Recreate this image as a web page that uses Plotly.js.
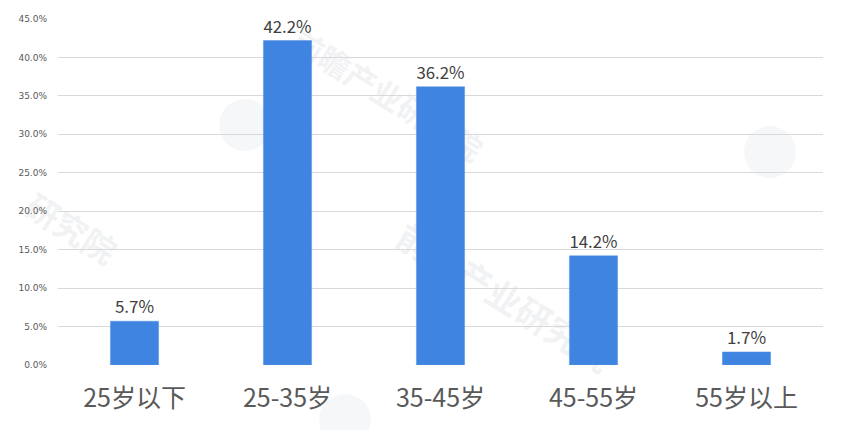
<!DOCTYPE html>
<html>
<head>
<meta charset="utf-8">
<script src="https://cdn.plot.ly/plotly-3.0.1.min.js"></script>
<style>html,body{margin:0;padding:0;background:#fff;}#chart{width:852px;height:430px;}</style>
</head>
<body>
<div id="chart"></div>
<script>
const categories = ["25岁以下", "25-35岁", "35-45岁", "45-55岁", "55岁以上"];
const shares = [5.7, 42.2, 36.2, 14.2, 1.7];
const yTicks = [0, 5, 10, 15, 20, 25, 30, 35, 40, 45];
const watermarkText = "前瞻产业研究院";
const watermarkPart = "研究院";

const CJK = '"Noto Sans CJK SC", "Microsoft YaHei", sans-serif';

function wm(text, cx, cy, len, angleDeg, size) {
  const a = angleDeg * Math.PI / 180;
  const dx = Math.cos(a) * len / 2, dy = Math.sin(a) * len / 2;
  const px = p => (p - 58) / 765, py = p => (365 - p) / 346;
  return {
    type: 'line', xref: 'paper', yref: 'paper', layer: 'below',
    x0: px(cx - dx), y0: py(cy + dy), x1: px(cx + dx), y1: py(cy - dy),
    line: {color: 'rgba(0,0,0,0)', width: 0},
    label: {text: text, textangle: 'auto', textposition: 'middle',
      font: {family: CJK, size: size, color: 'rgba(205,210,218,0.28)', weight: 'bold'}}
  };
}
function logo(cx, cy, r) {
  const px = p => (p - 58) / 765, py = p => (365 - p) / 346;
  return {type: 'circle', xref: 'paper', yref: 'paper', layer: 'below',
    x0: px(cx - r), x1: px(cx + r), y0: py(cy + r), y1: py(cy - r),
    line: {width: 0}, fillcolor: 'rgba(215,220,228,0.22)'};
}

const trace = {
  type: 'bar',
  x: categories,
  y: shares,
  marker: {color: '#3f84e0', line: {color: '#5a95e6', width: 0.5}},
  text: shares.map(v => v.toFixed(1) + '%'),
  textposition: 'outside',
  textfont: {family: CJK, size: 17, color: '#404040'},
  cliponaxis: false,
  hoverinfo: 'none'
};

const layout = {
  width: 852, height: 430,
  margin: {l: 58, r: 29, t: 19, b: 65},
  paper_bgcolor: '#ffffff', plot_bgcolor: 'rgba(0,0,0,0)',
  bargap: 0.685,
  showlegend: false,
  xaxis: {
    showgrid: false, zeroline: false, showline: false, ticks: '',
    tickfont: {family: CJK, size: 25, color: '#595959'},
    ticklabelstandoff: 16
  },
  yaxis: {
    range: [0, 45], tickvals: yTicks, ticktext: yTicks.map(v => v.toFixed(1) + '%'),
    showgrid: true, gridcolor: '#d9d9d9', gridwidth: 1,
    zeroline: false, showline: false, ticks: '',
    tickfont: {family: '"DejaVu Sans", sans-serif', size: 9, color: '#595959'},
    ticklabelstandoff: 10
  },
  shapes: [
    logo(245, 125, 26), logo(770, 152, 26), logo(345, 420, 26),
    wm(watermarkText, 372, 120, 240, -32, 31),
    wm(watermarkText, 487, 325, 270, -32, 35),
    wm(watermarkPart, 55, 255, 110, -32, 33)
  ]
};

Plotly.newPlot('chart', [trace], layout, {displayModeBar: false, staticPlot: true});
</script>
</body>
</html>
